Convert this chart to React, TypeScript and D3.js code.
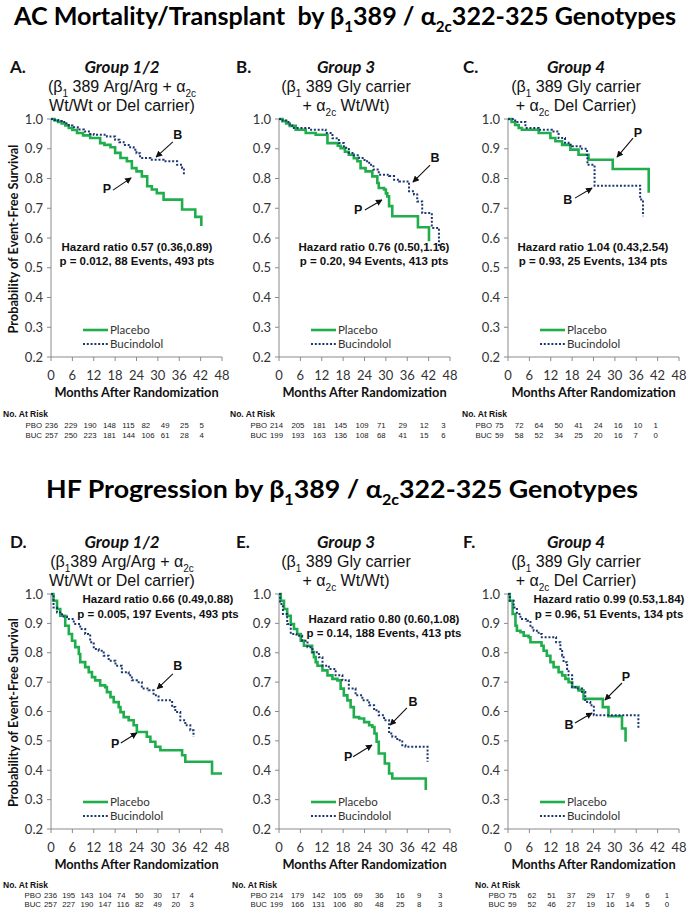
import React from "react";
import * as d3 from "d3";

type Pt = [number, number];

// ---------- DATA ----------
const monthTicks = [0, 6, 12, 18, 24, 30, 36, 42, 48];
const survTicks = [0.2, 0.3, 0.4, 0.5, 0.6, 0.7, 0.8, 0.9, 1.0];

// AC Mortality / Transplant
const acG12Placebo: Pt[] = [[0,1],[1,0.995],[2,0.99],[3,0.985],[4,0.978],[5,0.97],[6,0.963],[7.3,0.953],[9,0.945],[11,0.936],[13.8,0.919],[15,0.913],[16.7,0.905],[18,0.886],[19.5,0.869],[21.3,0.858],[22.7,0.835],[24,0.824],[25.5,0.807],[27,0.774],[28.3,0.763],[29.7,0.751],[31.6,0.729],[36.8,0.696],[40.5,0.671],[42.2,0.64]];
const acG12Bucind: Pt[] = [[0,1],[1,0.997],[2,0.993],[3,0.99],[4,0.985],[5,0.978],[6,0.972],[7.5,0.965],[9.2,0.958],[11,0.95],[12,0.947],[15.7,0.941],[18,0.93],[19.2,0.922],[20.4,0.913],[21.8,0.905],[23.2,0.897],[24,0.885],[25,0.869],[27.9,0.863],[31.6,0.858],[35.4,0.846],[36.8,0.835],[37.3,0.813]];
const acG3Placebo: Pt[] = [[0,1],[1,0.993],[2,0.985],[3,0.977],[4.7,0.964],[7.5,0.953],[10.3,0.947],[13.6,0.919],[16.5,0.91],[17.3,0.902],[18.5,0.89],[19.6,0.88],[21,0.868],[22,0.858],[22.9,0.835],[24.3,0.824],[26.2,0.807],[27.6,0.785],[28,0.768],[29.5,0.763],[30,0.75],[30.4,0.74],[30.9,0.707],[31.8,0.673],[39,0.636],[42.1,0.589]];
const acG3Bucind: Pt[] = [[0,1],[1,0.995],[2,0.99],[3,0.978],[3.7,0.97],[8.4,0.964],[13.1,0.953],[15,0.935],[16.8,0.919],[18.2,0.903],[19.6,0.886],[21,0.878],[22.5,0.869],[24,0.858],[25.3,0.846],[26.5,0.83],[28,0.813],[30.9,0.808],[32.3,0.796],[33.7,0.79],[36.5,0.757],[37.9,0.746],[38.8,0.723],[40.2,0.684],[42.9,0.634],[44.9,0.567]];
const acG4Placebo: Pt[] = [[0,1],[1,0.99],[2,0.98],[3,0.97],[3.9,0.964],[8.6,0.953],[11.9,0.936],[13.3,0.925],[15.2,0.913],[17.5,0.897],[19.8,0.88],[22.6,0.863],[29.4,0.832],[39.5,0.752]];
const acG4Bucind: Pt[] = [[0,1],[2,0.99],[4.9,0.97],[8.6,0.964],[12.3,0.958],[14.2,0.936],[16,0.92],[17,0.913],[18,0.908],[20.3,0.9],[22.2,0.874],[22.3,0.846],[24.3,0.776],[37.1,0.729],[37.9,0.673]];

// HF Progression
const hfG12Placebo: Pt[] = [[0,1],[0.7,0.977],[1.7,0.949],[2.6,0.926],[4,0.892],[5,0.864],[5.9,0.841],[6.8,0.819],[7.8,0.796],[8.2,0.768],[9.6,0.751],[10.6,0.734],[11.5,0.717],[12.4,0.706],[13.8,0.689],[15.2,0.683],[15.7,0.666],[16.7,0.649],[17.6,0.632],[19,0.615],[19.5,0.598],[20.4,0.581],[21.8,0.57],[23.2,0.553],[24.1,0.53],[26.9,0.514],[27.9,0.497],[29.3,0.48],[30.7,0.468],[36.8,0.451],[37.7,0.429],[45.2,0.389],[48,0.389]];
const hfG12Bucind: Pt[] = [[0,1],[0.7,0.954],[1.7,0.937],[3.1,0.923],[4.5,0.915],[6.4,0.898],[8.2,0.881],[9.6,0.864],[11,0.836],[12,0.813],[13.4,0.807],[14.8,0.79],[16.2,0.773],[18.1,0.756],[19.9,0.734],[21.8,0.723],[22.7,0.706],[24.1,0.7],[25.5,0.678],[27.4,0.672],[28.8,0.655],[30.2,0.638],[34,0.615],[34.9,0.598],[36.3,0.57],[37.7,0.553],[39.1,0.536],[40,0.514]];
const hfG3Placebo: Pt[] = [[0,1],[0.5,0.977],[1.4,0.949],[2.3,0.926],[3.3,0.898],[4.2,0.881],[5.1,0.864],[6.1,0.841],[7,0.824],[9.3,0.802],[9.8,0.785],[10.3,0.768],[10.8,0.756],[12.2,0.74],[13.6,0.723],[15,0.711],[16.4,0.706],[17.3,0.678],[18.2,0.655],[19.2,0.638],[20.1,0.615],[21,0.581],[22.5,0.576],[23.9,0.564],[25.3,0.553],[26.2,0.547],[26.8,0.525],[27.4,0.497],[28,0.457],[29.7,0.423],[30.9,0.389],[31.8,0.372],[41.2,0.333]];
const hfG3Bucind: Pt[] = [[0,1],[0.3,0.966],[1.1,0.932],[2.3,0.898],[3.3,0.864],[4.9,0.858],[6.5,0.841],[8,0.819],[9.4,0.802],[11.2,0.785],[12.2,0.756],[14,0.745],[15.9,0.723],[17.8,0.706],[19.6,0.678],[21.5,0.655],[23.4,0.638],[25.3,0.621],[26.7,0.604],[28,0.587],[29.5,0.57],[30.9,0.525],[31.8,0.514],[33.2,0.502],[34.6,0.485],[35.5,0.48],[41.7,0.429]];
const hfG4Placebo: Pt[] = [[0,1],[0.5,0.977],[1.3,0.932],[2.1,0.892],[2.5,0.875],[3.5,0.87],[4.4,0.858],[5.8,0.853],[6.3,0.836],[9.4,0.824],[10,0.807],[10.9,0.79],[11.9,0.768],[12.8,0.751],[14.2,0.734],[15.2,0.723],[16.1,0.711],[17,0.7],[18,0.683],[19.8,0.672],[21.2,0.643],[26.6,0.615],[28.2,0.584],[32,0.542],[33,0.497]];
const hfG4Bucind: Pt[] = [[0,1],[0.5,0.977],[1.6,0.954],[2.5,0.932],[3.5,0.915],[5.3,0.909],[6.3,0.886],[7.2,0.875],[8.6,0.864],[9.5,0.853],[13.5,0.836],[14.7,0.813],[15.2,0.79],[15.6,0.768],[16.6,0.745],[17,0.723],[18,0.683],[18.9,0.678],[20.8,0.666],[21.7,0.632],[23.1,0.621],[24.1,0.587],[36.6,0.542]];

// Numbers at risk
const riskAcG12Pbo = [236, 229, 190, 148, 115, 82, 49, 25, 5];
const riskAcG12Buc = [257, 250, 223, 181, 144, 106, 61, 28, 4];
const riskAcG3Pbo = [214, 205, 181, 145, 109, 71, 29, 12, 3];
const riskAcG3Buc = [199, 193, 163, 136, 108, 68, 41, 15, 6];
const riskAcG4Pbo = [75, 72, 64, 50, 41, 24, 16, 10, 1];
const riskAcG4Buc = [59, 58, 52, 34, 25, 20, 16, 7, 0];
const riskHfG12Pbo = [236, 195, 143, 104, 74, 50, 30, 17, 4];
const riskHfG12Buc = [257, 227, 190, 147, 116, 82, 49, 20, 3];
const riskHfG3Pbo = [214, 179, 142, 105, 69, 36, 16, 9, 3];
const riskHfG3Buc = [199, 166, 131, 106, 80, 48, 25, 8, 3];
const riskHfG4Pbo = [75, 62, 51, 37, 29, 17, 9, 6, 1];
const riskHfG4Buc = [59, 52, 46, 27, 19, 16, 14, 5, 0];

// Statistics text
const hazardLines = [
  ["Hazard ratio 0.57 (0.36,0.89)", "p = 0.012, 88 Events, 493 pts"],
  ["Hazard ratio 0.76 (0.50,1.16)", "p = 0.20, 94 Events, 413 pts"],
  ["Hazard ratio 1.04 (0.43,2.54)", "p = 0.93, 25 Events, 134 pts"],
  ["Hazard ratio 0.66 (0.49,0.88)", "p = 0.005, 197 Events, 493 pts"],
  ["Hazard ratio 0.80 (0.60,1.08)", "p = 0.14, 188 Events, 413 pts"],
  ["Hazard ratio 0.99 (0.53,1.84)", "p = 0.96, 51 Events, 134 pts"],
];

// Arrow annotations (label, label point, arrow from, arrow to) in data units
type Ann = { t: string; l: Pt; f: Pt; to: Pt };
const annA: Ann[] = [{ t: "B", l: [35.6, 0.946], f: [34.2, 0.923], to: [29.5, 0.872] }, { t: "P", l: [15.7, 0.765], f: [17.4, 0.761], to: [22.5, 0.802] }];
const annB: Ann[] = [{ t: "B", l: [43.8, 0.869], f: [42.4, 0.845], to: [37.6, 0.788] }, { t: "P", l: [22.2, 0.694], f: [24.1, 0.694], to: [28.9, 0.728] }];
const annC: Ann[] = [{ t: "P", l: [36.5, 0.953], f: [35.1, 0.936], to: [30.6, 0.872] }, { t: "B", l: [16.8, 0.728], f: [18.8, 0.734], to: [23.6, 0.768] }];
const annD: Ann[] = [{ t: "B", l: [35.6, 0.755], f: [34.2, 0.728], to: [29.8, 0.677] }, { t: "P", l: [18, 0.49], f: [19.6, 0.493], to: [24.1, 0.527] }];
const annE: Ann[] = [{ t: "B", l: [37.6, 0.633], f: [35.9, 0.612], to: [31.2, 0.554] }, { t: "P", l: [19.4, 0.446], f: [20.8, 0.446], to: [26.1, 0.486] }];
const annF: Ann[] = [{ t: "P", l: [33.1, 0.718], f: [32, 0.697], to: [27.2, 0.639] }, { t: "B", l: [17.1, 0.554], f: [18.8, 0.561], to: [23.6, 0.595] }];

// rich text segments: [text, isSubscript]
type Seg = [string, boolean];
const hdrG12a: Seg[] = [["(β", false], ["1", true], [" 389 Arg/Arg + α", false], ["2c", true]];
const hdrG12aD: Seg[] = [["(β", false], ["1", true], ["389 Arg/Arg + α", false], ["2c", true]];
const hdrG12b: Seg[] = [["Wt/Wt or Del carrier)", false]];
const hdrG3a: Seg[] = [["(β", false], ["1", true], [" 389 Gly carrier", false]];
const hdrG3b: Seg[] = [["+ α", false], ["2c", true], [" Wt/Wt)", false]];
const hdrG4a: Seg[] = [["(β", false], ["1", true], [" 389 Gly carrier", false]];
const hdrG4b: Seg[] = [["+ α", false], ["2c", true], [" Del Carrier)", false]];
const titleAC: Seg[] = [["AC Mortality/Transplant  by β", false], ["1", true], ["389 / α", false], ["2c", true], ["322-325 Genotypes", false]];
const titleHF: Seg[] = [["HF Progression by β", false], ["1", true], ["389 / α", false], ["2c", true], ["322-325 Genotypes", false]];

// ---------- STYLE ----------
const GREEN = "#1fae4b";
const NAVY = "#1b3773";
const CAL = "Lato, 'Open Sans', sans-serif";
const ARIAL = "'Liberation Sans', Arial, sans-serif";
const NARROW = "'Liberation Sans Narrow', 'Arial Narrow', 'Liberation Sans', sans-serif";

const rows = [
  { yTop: 119, yBot: 357, titleY: 17, hdrY: [67, 87, 106], riskY: [414, 425, 435] },
  { yTop: 594, yBot: 829, titleY: 490, hdrY: [542, 562, 581], riskY: [885, 895, 904] },
];

type PanelCfg = {
  letter: string; group: string; l2: Seg[]; l3: Seg[]; x0: number; row: number; cx: number; lx: number;
  plc: Pt[]; buc: Pt[]; hr: string[]; hrX: number; hrY: number[]; ann: Ann[];
  rPbo: number[]; rBuc: number[]; rLabel: string; rx: number[]; rStep: number; yTitle: boolean;
};

const panels: PanelCfg[] = [
  { letter: "A.", group: "Group 1/2", l2: hdrG12a, l3: hdrG12b, x0: 51, row: 0, cx: 122, lx: 10, plc: acG12Placebo, buc: acG12Bucind, hr: hazardLines[0], hrX: 137, hrY: [247, 261], ann: annA, rPbo: riskAcG12Pbo, rBuc: riskAcG12Buc, rLabel: "PBO", rx: [3, 27, 45], rStep: 19.3, yTitle: true },
  { letter: "B.", group: "Group 3", l2: hdrG3a, l3: hdrG3b, x0: 279, row: 0, cx: 346, lx: 236, plc: acG3Placebo, buc: acG3Bucind, hr: hazardLines[1], hrX: 374, hrY: [247, 261], ann: annB, rPbo: riskAcG3Pbo, rBuc: riskAcG3Buc, rLabel: "PBO", rx: [230, 248, 270], rStep: 21.4, yTitle: false },
  { letter: "C.", group: "Group 4", l2: hdrG4a, l3: hdrG4b, x0: 508, row: 0, cx: 576, lx: 463, plc: acG4Placebo, buc: acG4Bucind, hr: hazardLines[2], hrX: 593, hrY: [247, 261], ann: annC, rPbo: riskAcG4Pbo, rBuc: riskAcG4Buc, rLabel: "PBO", rx: [462, 478, 495], rStep: 19.8, yTitle: false },
  { letter: "D.", group: "Group 1/2", l2: hdrG12aD, l3: hdrG12b, x0: 51, row: 1, cx: 122, lx: 10, plc: hfG12Placebo, buc: hfG12Bucind, hr: hazardLines[3], hrX: 158, hrY: [599, 614], ann: annD, rPbo: riskHfG12Pbo, rBuc: riskHfG12Buc, rLabel: "PBO", rx: [3, 27, 44], rStep: 18.2, yTitle: true },
  { letter: "E.", group: "Group 3", l2: hdrG3a, l3: hdrG3b, x0: 279, row: 1, cx: 346, lx: 236, plc: hfG3Placebo, buc: hfG3Bucind, hr: hazardLines[4], hrX: 384, hrY: [619, 633], ann: annE, rPbo: riskHfG3Pbo, rBuc: riskHfG3Buc, rLabel: "PBO", rx: [232, 250, 270], rStep: 21, yTitle: false },
  { letter: "F.", group: "Group 4", l2: hdrG4a, l3: hdrG4b, x0: 508, row: 1, cx: 576, lx: 463, plc: hfG4Placebo, buc: hfG4Bucind, hr: hazardLines[5], hrX: 609, hrY: [599, 614], ann: annF, rPbo: riskHfG4Pbo, rBuc: riskHfG4Buc, rLabel: "PBO", rx: [475, 488, 508], rStep: 19.6, yTitle: false },
];

const PW = 171;

function Rich({ segs, subSize }: { segs: Seg[]; subSize: number }) {
  const out: React.ReactNode[] = [];
  let inSub = false;
  segs.forEach(([t, sub], i) => {
    let dy = 0;
    if (sub && !inSub) dy = subSize * 0.45;
    if (!sub && inSub) dy = -subSize * 0.45;
    inSub = sub;
    out.push(
      <tspan key={i} dy={dy || undefined} fontSize={sub ? subSize : undefined}>{t}</tspan>
    );
  });
  return <>{out}</>;
}

function Panel({ p }: { p: PanelCfg }) {
  const r = rows[p.row];
  const x = d3.scaleLinear().domain([0, 48]).range([p.x0, p.x0 + PW]);
  const y = d3.scaleLinear().domain([0.2, 1.0]).range([r.yBot, r.yTop]);
  const line = d3.line<Pt>().x((d) => x(d[0])).y((d) => y(d[1])).curve(d3.curveStepAfter);
  const fmt = d3.format(".1f");
  const legY1 = r.yBot - 27;
  const legY2 = r.yBot - 13;
  const rFont = 7.8;
  return (
    <g>
      {/* header */}
      <text x={p.lx} y={r.hdrY[0]} dy="0.35em" fontFamily={CAL} fontWeight={700} fontSize={17} fill="#111">{p.letter}</text>
      <text x={p.cx} y={r.hdrY[0]} dy="0.35em" textAnchor="middle" fontFamily={CAL} fontWeight={700} fontStyle="italic" fontSize={17} fill="#111">{p.group}</text>
      <text x={p.cx} y={r.hdrY[1] + 5} textAnchor="middle" fontFamily={NARROW} fontSize={16} fill="#111"><Rich segs={p.l2} subSize={10} /></text>
      <text x={p.cx} y={r.hdrY[2] + 5} textAnchor="middle" fontFamily={NARROW} fontSize={16} fill="#111"><Rich segs={p.l3} subSize={10} /></text>

      {/* axes */}
      <line x1={p.x0} x2={p.x0} y1={r.yTop} y2={r.yBot} stroke="#8a8a8a" strokeWidth={1} />
      <line x1={p.x0} x2={p.x0 + PW} y1={r.yBot} y2={r.yBot} stroke="#8a8a8a" strokeWidth={1} />
      {survTicks.map((t) => (
        <g key={"y" + t}>
          <line x1={p.x0 - 4} x2={p.x0} y1={y(t)} y2={y(t)} stroke="#8a8a8a" />
          <text x={p.x0 - 8} y={y(t)} dy="0.35em" textAnchor="end" fontFamily={CAL} fontSize={13} fill="#333">{fmt(t)}</text>
        </g>
      ))}
      {monthTicks.map((t) => (
        <g key={"x" + t}>
          <line x1={x(t)} x2={x(t)} y1={r.yBot} y2={r.yBot + 4} stroke="#8a8a8a" />
          <text x={x(t)} y={r.yBot + 18} dy="0.35em" textAnchor="middle" fontFamily={CAL} fontSize={13} fill="#333">{t}</text>
        </g>
      ))}
      <text x={p.x0 + PW / 2} y={r.yBot + 36} dy="0.35em" textAnchor="middle" fontFamily={CAL} fontWeight={700} fontSize={12.8} fill="#111">Months After Randomization</text>
      {p.yTitle && (
        <text transform={`translate(14,${(r.yTop + r.yBot) / 2 + 1}) rotate(-90)`} dy="0.35em" textAnchor="middle" fontFamily={CAL} fontWeight={700} fontSize={12.5} textLength={189} lengthAdjust="spacingAndGlyphs" fill="#111">Probability of Event-Free Survival</text>
      )}

      {/* curves */}
      <path d={line(p.plc) || ""} fill="none" stroke={GREEN} strokeWidth={2.6} />
      <path d={line(p.buc) || ""} fill="none" stroke={NAVY} strokeWidth={2} strokeDasharray="2 1.8" />

      {/* hazard text */}
      {p.hr.map((t, i) => (
        <text key={i} x={p.hrX} y={p.hrY[i]} dy="0.35em" textAnchor="middle" fontFamily={ARIAL} fontWeight={700} fontSize={11.5} fill="#111">{t}</text>
      ))}

      {/* arrows */}
      {p.ann.map((a, i) => (
        <g key={i}>
          <text x={x(a.l[0])} y={y(a.l[1])} dy="0.35em" textAnchor="middle" fontFamily={ARIAL} fontWeight={700} fontSize={12.5} fill="#111">{a.t}</text>
          <line x1={x(a.f[0])} y1={y(a.f[1])} x2={x(a.to[0])} y2={y(a.to[1])} stroke="#111" strokeWidth={1.1} markerEnd="url(#arrowHead)" />
        </g>
      ))}

      {/* legend */}
      <line x1={p.x0 + 32} x2={p.x0 + 57} y1={legY1} y2={legY1} stroke={GREEN} strokeWidth={2.6} />
      <text x={p.x0 + 59} y={legY1} dy="0.35em" fontFamily={CAL} fontSize={11.5} fill="#333">Placebo</text>
      <line x1={p.x0 + 32} x2={p.x0 + 57} y1={legY2} y2={legY2} stroke={NAVY} strokeWidth={2} strokeDasharray="2 1.8" />
      <text x={p.x0 + 59} y={legY2} dy="0.35em" fontFamily={CAL} fontSize={11.5} fill="#333">Bucindolol</text>

      {/* number at risk */}
      <text x={p.rx[0]} y={r.riskY[0]} dy="0.35em" fontFamily={ARIAL} fontWeight={700} fontSize={8.5} fill="#111">No. At Risk</text>
      <text x={p.rx[2] - 3} y={r.riskY[1]} dy="0.35em" textAnchor="end" fontFamily={ARIAL} fontSize={rFont} fill="#222">{p.rLabel}</text>
      <text x={p.rx[2] - 3} y={r.riskY[2]} dy="0.35em" textAnchor="end" fontFamily={ARIAL} fontSize={rFont} fill="#222">BUC</text>
      {p.rPbo.map((v, i) => (
        <text key={"p" + i} x={p.rx[2] + i * p.rStep} y={r.riskY[1]} dy="0.35em" fontFamily={ARIAL} fontSize={rFont} fill="#222">{v}</text>
      ))}
      {p.rBuc.map((v, i) => (
        <text key={"b" + i} x={p.rx[2] + i * p.rStep} y={r.riskY[2]} dy="0.35em" fontFamily={ARIAL} fontSize={rFont} fill="#222">{v}</text>
      ))}
    </g>
  );
}

export default function App() {
  return (
    <svg width={689} height={914} viewBox="0 0 689 914" style={{ position: "absolute", left: 0, top: 0, background: "#fff" }}>
      <defs>
        <marker id="arrowHead" viewBox="0 0 10 10" refX="9" refY="5" markerWidth="6" markerHeight="6" orient="auto">
          <path d="M0,0 L10,5 L0,10 z" fill="#111" />
        </marker>
      </defs>
      <rect width={689} height={914} fill="#fff" />
      <text x={345} y={rows[0].titleY + 8} textAnchor="middle" fontFamily={CAL} fontWeight={700} fontSize={25} textLength={662} lengthAdjust="spacingAndGlyphs" style={{ whiteSpace: "pre" }} fill="#000">
        <Rich segs={titleAC} subSize={15} />
      </text>
      <text x={342} y={rows[1].titleY + 8} textAnchor="middle" fontFamily={CAL} fontWeight={700} fontSize={25} textLength={592} lengthAdjust="spacingAndGlyphs" fill="#000">
        <Rich segs={titleHF} subSize={15} />
      </text>
      {panels.map((p, i) => <Panel key={i} p={p} />)}
    </svg>
  );
}
